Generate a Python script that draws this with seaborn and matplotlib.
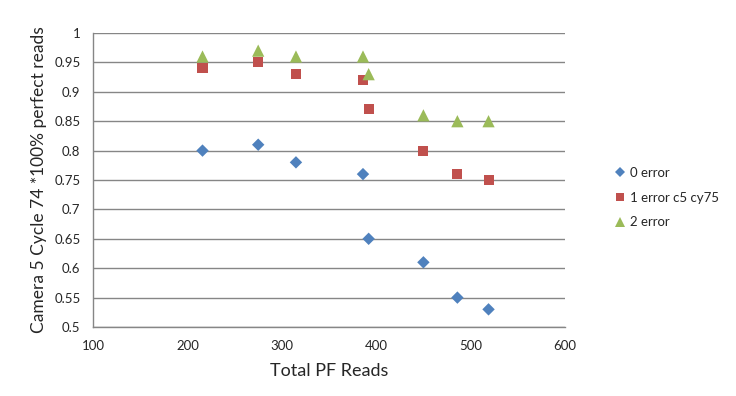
import numpy as np
import pandas as pd
import matplotlib
matplotlib.use('Agg')
import matplotlib.pyplot as plt
import seaborn as sns

# data
reads = [216, 275, 315, 386, 392, 450, 486, 519]
err0 = [0.80, 0.81, 0.78, 0.76, 0.65, 0.61, 0.55, 0.53]
err1 = [0.94, 0.95, 0.93, 0.92, 0.87, 0.80, 0.76, 0.75]
err2 = [0.96, 0.97, 0.96, 0.96, 0.93, 0.86, 0.85, 0.85]
series = ['0 error', '1 error c5 cy75', '2 error']

df = pd.DataFrame({
    'reads': reads * 3,
    'value': err0 + err1 + err2,
    'series': [series[0]] * 8 + [series[1]] * 8 + [series[2]] * 8,
})

sns.set_style('white')
plt.rcParams['font.family'] = ['Lato', 'DejaVu Sans']

BLUE = '#4F81BD'
RED = '#C0504D'
GREEN = '#9BBB59'
GRID = '#868686'
TEXT = '#262626'

fig = plt.figure(figsize=(7.36, 3.96), dpi=100)
ax = fig.add_axes([93 / 736, 1 - 327 / 396, (565 - 93) / 736, (327 - 33) / 396])

sns.scatterplot(data=df, x='reads', y='value', hue='series', style='series',
                size='series',
                hue_order=series, style_order=series, size_order=series,
                palette=[BLUE, RED, GREEN], markers=['D', 's', '^'],
                sizes={series[0]: 40, series[1]: 52, series[2]: 78},
                linewidth=0, ax=ax, zorder=3)

ax.set_xlim(100, 600)
ax.set_ylim(0.5, 1.0)
ax.set_xticks(np.arange(100, 601, 100))
ax.set_yticks(np.arange(0.5, 1.001, 0.05))
ax.set_yticklabels(['0.5', '0.55', '0.6', '0.65', '0.7', '0.75', '0.8',
                    '0.85', '0.9', '0.95', '1'])
ax.grid(axis='y', color=GRID, linewidth=1)
ax.set_axisbelow(True)
for side in ['top', 'right']:
    ax.spines[side].set_visible(False)
for side in ['left', 'bottom']:
    ax.spines[side].set_color(GRID)
    ax.spines[side].set_linewidth(1)
ax.tick_params(axis='both', direction='out', length=4, color=GRID,
               labelsize=9.5, labelcolor=TEXT, pad=5)

ax.set_xlabel('Total PF Reads', fontsize=13, color=TEXT, labelpad=8)
ax.set_ylabel('Camera 5 Cycle 74 *100% perfect reads', fontsize=12.5,
              color=TEXT, labelpad=5)

leg = ax.legend(loc='center left', bbox_to_anchor=(1.106, 0.44), frameon=False,
                fontsize=9.5, handlelength=0.8, handletextpad=0.3,
                labelspacing=0.95, markerscale=0.75, borderaxespad=0,
                borderpad=0)
for t in leg.get_texts():
    t.set_color(TEXT)

fig.savefig('out.png', dpi=100)
